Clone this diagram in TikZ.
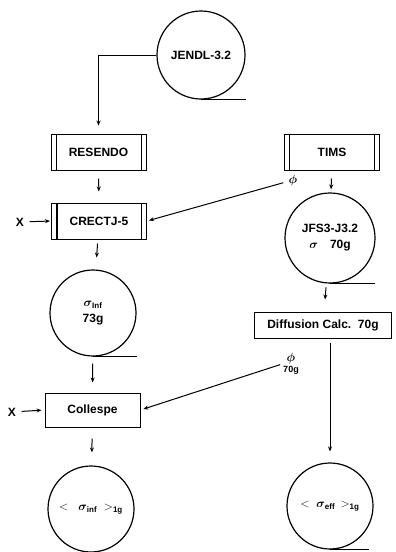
\documentclass[tikz,border=0pt]{standalone}
\usepackage{amsmath}
\usepackage{fontspec}
\setmainfont{Liberation Sans}
\usepackage{tikz}
\usetikzlibrary{arrows.meta}

\tikzset{
    every node/.style={font=\bfseries\fontsize{12}{14}\selectfont},
    prog/.style={draw, line width=1pt, minimum width=95pt, minimum height=36pt, inner sep=0pt,
        path picture={
            \draw[line width=#1] ([xshift=5pt]path picture bounding box.north west) -- ([xshift=5pt]path picture bounding box.south west);
            \draw[line width=1pt] ([xshift=-5pt]path picture bounding box.north east) -- ([xshift=-5pt]path picture bounding box.south east);
        }},
    prog/.default=1pt,
    plainbox/.style={draw, line width=1pt, minimum width=95pt, minimum height=34pt, inner sep=0pt},
    datafile/.style={draw, circle, line width=1.2pt, minimum size=88pt, inner sep=0pt, align=center},
    tail/.style={line width=1.2pt},
    flow/.style={-{Stealth[length=5pt,width=4pt]}, line width=1pt, shorten <=6pt, shorten >=10pt},
}
\newcommand{\bsig}{\boldsymbol{\sigma}}

\begin{document}
\begin{tikzpicture}[x=1pt, y=-1pt]
    \useasboundingbox (0,0) rectangle (396,552);
    % left column
    \node[datafile] (jendl) at (201,55) {JENDL-3.2};
    \node[prog] (resendo) at (98.5,152) {RESENDO};
    \node[prog=2pt] (crectj) at (99,221) {CRECTJ-5};
    \node[datafile, minimum size=86pt] (siginf) at (93,313) {$\bsig_{\text{Inf}}$\\[2pt]73g};
    \node[plainbox] (coll) at (92.5,410) {Collespe};
    \node[datafile, minimum size=86pt] (avginf) at (91,509) {$<\;\;\bsig_{\text{inf}}\;>_{\text{1g}}$};
    % right column
    \node[prog] (tims) at (332,152) {TIMS};
    \node[datafile, minimum size=90pt] (jfs) at (330,238) {JFS3-J3.2\\[2pt]$\bsig$\quad 70g};
    \node[plainbox, minimum width=137pt, minimum height=26pt] (diff) at (323,325) {Diffusion Calc.\ \ 70g};
    \node[datafile, minimum size=86pt] (avgeff) at (330,506) {$<\;\bsig_{\text{eff}}\,>_{\text{1g}}$};
    % inputs
    \node (x1) at (20,222) {X};
    \node (x2) at (12,412) {X};
    \node (phi1) at (293,180) {$\boldsymbol{\phi}$};
    \node[align=center, inner sep=1pt] (phi2) at (291,364) {$\boldsymbol{\phi}$\\[-3pt]{\fontsize{9}{10}\selectfont 70g}};

    \draw[tail] (jendl.south) -- ++(45,0);
    \draw[tail] (siginf.south) -- ++(44,0);
    \draw[tail] (jfs.south) -- ++(45,0);
    \draw[tail] (avgeff.south) -- ++(39,0);

    \draw[flow, shorten <=0pt, shorten >=8pt] (jendl.west) -| (resendo.north);
    \draw[flow, shorten <=8pt, shorten >=11pt] (resendo) -- (crectj);
    \draw[flow, shorten <=4pt, shorten >=12pt] (crectj) -- (siginf);
    \draw[flow, shorten <=7pt, shorten >=10pt] (siginf) -- (coll);
    \draw[flow, shorten <=11pt, shorten >=13pt] (coll) -- (avginf);
    \draw[flow, shorten <=8pt, shorten >=3pt] (tims) -- (jfs);
    \draw[flow, shorten <=4pt, shorten >=12pt] (jfs) -- (diff);
    \draw[flow, shorten <=4pt, shorten >=11pt] ([xshift=7pt]diff.south) -- (avgeff);
    \draw[flow, shorten <=2pt, shorten >=1pt] (x1) -- (crectj.west);
    \draw[flow, shorten <=2pt, shorten >=3pt] (x2) -- (coll.west);
    \draw[flow, shorten <=2pt, shorten >=2pt] (phi1) -- (crectj.east);
    \draw[flow, shorten <=2pt, shorten >=3pt] (phi2.west) -- (coll.east);
\end{tikzpicture}
\end{document}
